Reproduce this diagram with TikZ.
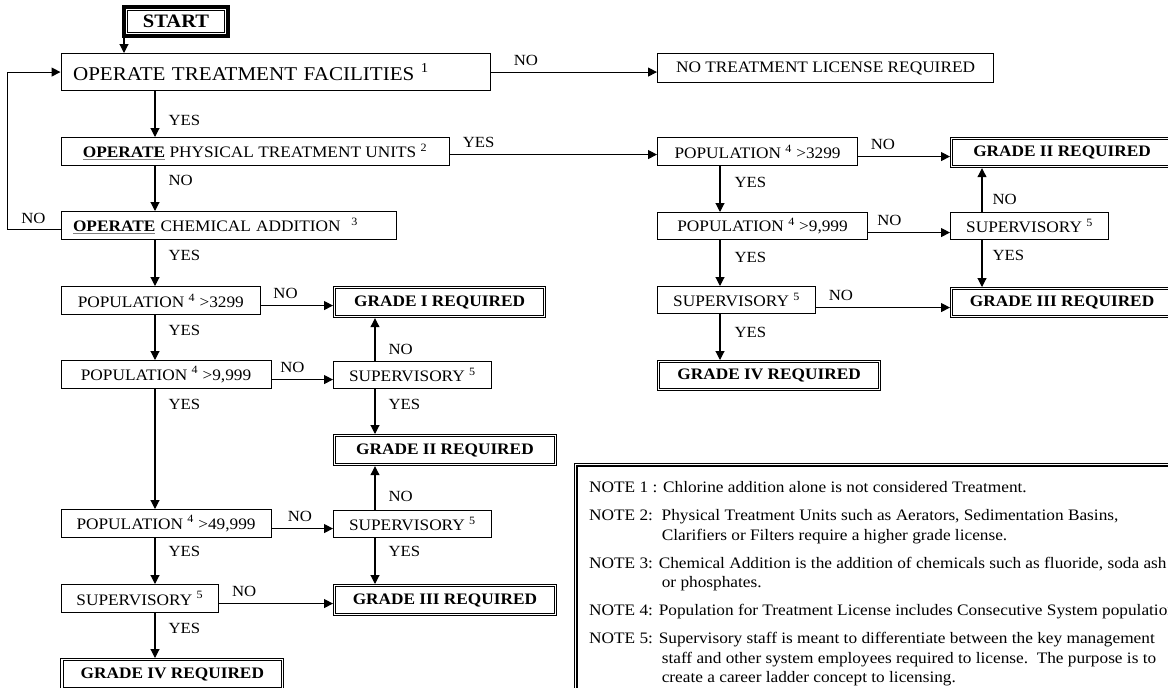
\documentclass[tikz,border=0pt]{standalone}
\usepackage{fontspec}
\setmainfont{Liberation Serif}[FakeStretch=1.08]
\usepackage{tikz}
\usetikzlibrary{arrows.meta}

\newcommand\opbold{{\color{gray}\underline{\textcolor{black}{\textbf{OPERATE}}}}}

\begin{document}
\begin{tikzpicture}[x=1pt,y=-1pt,
    box/.style={draw,line width=1.1pt,anchor=north west,inner sep=0pt,
      minimum height=28pt,font=\fontsize{16}{19}\selectfont},
    lbox/.style={box,inner xsep=12pt,align=left},
    grade/.style={box,double,double distance=1.3pt,line width=1pt,outer sep=1.6pt,
      font=\fontsize{16}{19}\selectfont\bfseries},
    lbl/.style={inner sep=0pt,font=\fontsize{15.5}{18}\selectfont},
    flow/.style={draw,line width=1.1pt,->,>={Triangle[length=9pt,width=9pt]}}]
  \useasboundingbox (0,0) rectangle (1168,688);
  \clip (0,0) rectangle (1168,688);
  % columns of the vertical arrows
  \coordinate (lcol) at (155,0);
  \coordinate (mcol) at (375,0);
  \coordinate (rcol) at (720,0);
  \coordinate (qcol) at (982,0);

  \node[draw,line width=4pt,outer sep=0pt,minimum width=104pt,minimum height=29pt,
    font=\fontsize{19}{22}\selectfont\bfseries] (start) at (176,21.5) {START};
  \path[draw,line width=0.8pt] ([shift={(3.8,3.8)}]start.north west)
    rectangle ([shift={(-3.8,-3.8)}]start.south east);

  % left side
  \node[lbox,text width=405.5pt,minimum height=37pt,font=\fontsize{19.5}{22}\selectfont]
    (otf) at (60.5,53) {OPERATE TREATMENT FACILITIES \textsuperscript{1}};
  \node[box,minimum width=336pt,minimum height=29pt] (ntl) at (657,53)
    {NO TREATMENT LICENSE REQUIRED};
  \node[box,minimum width=388pt] (ptu) at (60.5,137)
    {\opbold{} PHYSICAL TREATMENT UNITS \textsuperscript{2}};
  \node[lbox,text width=311.5pt] (chem) at (60.5,211)
    {\opbold{} CHEMICAL ADDITION \ \textsuperscript{3}};
  \node[box,minimum width=199.5pt] (pop1) at (60.5,286) {POPULATION \textsuperscript{4} >3299};
  \node[grade,minimum width=210pt,minimum height=29pt] (g1) at (333,286) {GRADE I REQUIRED};
  \node[box,minimum width=210pt] (pop2) at (60.5,360) {POPULATION \textsuperscript{4} >9,999};
  \node[box,minimum width=157.6pt,minimum height=27pt] (sup1) at (333,361) {SUPERVISORY \textsuperscript{5}};
  \node[grade,minimum width=220.7pt,minimum height=29pt] (g2) at (333,434) {GRADE II REQUIRED};
  \node[box,minimum width=210pt] (pop3) at (60.5,509) {POPULATION \textsuperscript{4} >49,999};
  \node[box,minimum width=157.6pt,minimum height=27pt] (sup2) at (333,510) {SUPERVISORY \textsuperscript{5}};
  \node[box,minimum width=157.5pt] (sup3) at (60.5,584) {SUPERVISORY \textsuperscript{5}};
  \node[grade,minimum width=220.7pt,minimum height=29pt] (g3) at (333,584) {GRADE III REQUIRED};
  \node[grade,minimum width=220.5pt,minimum height=29pt] (g4) at (60.5,658) {GRADE IV REQUIRED};

  % right side
  \node[box,minimum width=200pt] (rpop1) at (657,137) {POPULATION \textsuperscript{4} >3299};
  \node[grade,minimum width=221pt] (rg2) at (950,137) {GRADE II REQUIRED};
  \node[box,minimum width=210pt,minimum height=27pt] (rpop2) at (657,212) {POPULATION \textsuperscript{4} >9,999};
  \node[box,minimum width=158pt,minimum height=27pt] (rsup1) at (950,212) {SUPERVISORY \textsuperscript{5}};
  \node[box,minimum width=158pt,minimum height=27pt] (rsup2) at (657,286) {SUPERVISORY \textsuperscript{5}};
  \node[grade,minimum width=221pt] (rg3) at (950,287) {GRADE III REQUIRED};
  \node[grade,minimum width=221pt] (rg4) at (657,360) {GRADE IV REQUIRED};

  % connectors
  \path[flow] (start.south west) -- (start.south west |- otf.north);
  \path[flow] (otf.east) -- node[lbl,above=6pt,pos=.21] {NO} (otf.east -| ntl.west);
  \path[flow] (lcol |- otf.south) -- node[lbl,right=13pt,pos=.64] {YES} (lcol |- ptu.north);
  \path[flow] ([yshift=-3pt]ptu.east) -- node[lbl,above=6pt,pos=.14] {YES}
    ([yshift=-3pt]ptu.east -| rpop1.west);
  \path[flow] (lcol |- ptu.south) -- node[lbl,right=13pt,pos=.33] {NO} (lcol |- chem.north);
  \path[flow] ([yshift=-4pt]chem.west) -- node[lbl,above=5pt,pos=.51] {NO} ++(-53,0) |- (otf.west);
  \path[flow] (lcol |- chem.south) -- node[lbl,right=13pt,pos=.34] {YES} (lcol |- pop1.north);
  \path[flow] ([yshift=-5pt]pop1.east) -- node[lbl,above=6pt,pos=.34] {NO}
    ([yshift=-5pt]pop1.east -| g1.west);
  \path[flow] (lcol |- pop1.south) -- node[lbl,right=13pt,pos=.35] {YES} (lcol |- pop2.north);
  \path[flow] ([yshift=-5pt]pop2.east) -- node[lbl,above=6pt,pos=.34] {NO}
    ([yshift=-5pt]pop2.east -| sup1.west);
  \path[flow] (mcol |- sup1.north) -- node[lbl,right=13pt,pos=.28] {NO} (mcol |- g1.south);
  \path[flow] (mcol |- sup1.south) -- node[lbl,right=13pt,pos=.35] {YES} (mcol |- g2.north);
  \path[flow] (lcol |- pop2.south) -- node[lbl,right=13pt,pos=.13] {YES} (lcol |- pop3.north);
  \path[flow] (mcol |- sup2.north) -- node[lbl,right=13pt,pos=.3] {NO} (mcol |- g2.south);
  \path[flow] ([yshift=-5pt]pop3.east) -- node[lbl,above=6pt,pos=.46] {NO}
    ([yshift=-5pt]pop3.east -| sup2.west);
  \path[flow] (mcol |- sup2.south) -- node[lbl,right=13pt,pos=.3] {YES} (mcol |- g3.north);
  \path[flow] (lcol |- pop3.south) -- node[lbl,right=13pt,pos=.3] {YES} (lcol |- sup3.north);
  \path[flow] ([yshift=-5pt]sup3.east) -- node[lbl,above=6pt,pos=.22] {NO}
    ([yshift=-5pt]sup3.east -| g3.west);
  \path[flow] (lcol |- sup3.south) -- node[lbl,right=13pt,pos=.35] {YES} (lcol |- g4.north);

  \path[flow] ([yshift=-5pt]rpop1.east) -- node[lbl,above=6pt,pos=.27] {NO}
    ([yshift=-5pt]rpop1.east -| rg2.west);
  \path[flow] (rcol |- rpop1.south) -- node[lbl,right=14pt,pos=.36] {YES} (rcol |- rpop2.north);
  \path[flow] ([yshift=-6.5pt]rpop2.east) -- node[lbl,above=6pt,pos=.26] {NO}
    ([yshift=-6.5pt]rpop2.east -| rsup1.west);
  \path[flow] (qcol |- rsup1.north) -- node[lbl,right=10pt,pos=.28] {NO} (qcol |- rg2.south);
  \path[flow] (qcol |- rsup1.south) -- node[lbl,right=10pt,pos=.33] {YES} (qcol |- rg3.north);
  \path[flow] (rcol |- rpop2.south) -- node[lbl,right=14pt,pos=.38] {YES} (rcol |- rsup2.north);
  \path[flow] ([yshift=-7.5pt]rsup2.east) -- node[lbl,above=6pt,pos=.185] {NO}
    ([yshift=-7.5pt]rsup2.east -| rg3.west);
  \path[flow] (rcol |- rsup2.south) -- node[lbl,right=14pt,pos=.4] {YES} (rcol |- rg4.north);

  % notes
  \path[draw,double,double distance=1.8pt,line width=1.1pt] (575.5,464.5) rectangle (1200,720);
  \node[anchor=north west,inner sep=0pt,align=left,font=\fontsize{16}{19.5}\selectfont]
    (notes) at (589,481.5) {%
    NOTE 1 : Chlorine addition alone is not considered Treatment.\\[8.5pt]
    NOTE 2:\ \ Physical Treatment Units such as Aerators, Sedimentation Basins,\\
    \hspace*{72.6pt}Clarifiers or Filters require a higher grade license.\\[8.5pt]
    NOTE 3: Chemical Addition is the addition of chemicals such as fluoride, soda ash\\
    \hspace*{72.6pt}or phosphates.\\[8.5pt]
    NOTE 4: Population for Treatment License includes Consecutive System population\\[8.5pt]
    NOTE 5: Supervisory staff is meant to differentiate between the key management\\
    \hspace*{72.6pt}staff and other system employees required to license.\ \ The purpose is to\\
    \hspace*{72.6pt}create a career ladder concept to licensing.};
\end{tikzpicture}
\end{document}
